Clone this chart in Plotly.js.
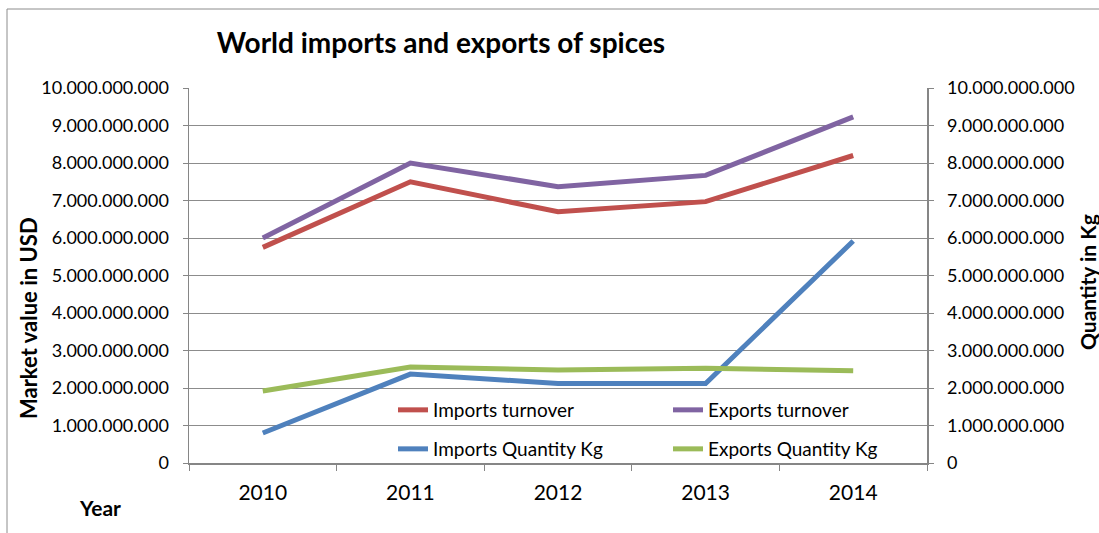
<!DOCTYPE html>
<html>
<head>
<meta charset="utf-8">
<script src="https://cdn.plot.ly/plotly-3.0.1.min.js"></script>
<style>html,body{margin:0;padding:0;background:#fff;}#chart{width:1099px;height:533px;}</style>
</head>
<body>
<div id="chart"></div>
<script>
const years = ['2010', '2011', '2012', '2013', '2014'];
const importsTurnover = [5.75e9, 7.5e9, 6.7e9, 6.97e9, 8.2e9];
const exportsTurnover = [6.0e9, 8.0e9, 7.37e9, 7.67e9, 9.23e9];
const importsQuantity = [0.8e9, 2.37e9, 2.12e9, 2.12e9, 5.92e9];
const exportsQuantity = [1.92e9, 2.56e9, 2.48e9, 2.53e9, 2.46e9];
const yTickVals = [0, 1e9, 2e9, 3e9, 4e9, 5e9, 6e9, 7e9, 8e9, 9e9, 1e10];

const FONT = 'Lato, "Open Sans", sans-serif';
const L = 189, R = 927, T = 88, B = 463;
const px = x => (x - L) / (R - L);
const py = y => (B - y) / (B - T);

const traces = [
  {x: years, y: importsTurnover, name: 'Imports turnover', type: 'scatter', mode: 'lines',
   line: {color: '#C0504D', width: 5}, legend: 'legend'},
  {x: years, y: exportsTurnover, name: 'Exports turnover', type: 'scatter', mode: 'lines',
   line: {color: '#8064A2', width: 5}, legend: 'legend'},
  {x: years, y: importsQuantity, name: 'Imports Quantity Kg', type: 'scatter', mode: 'lines',
   line: {color: '#4F81BD', width: 5}, yaxis: 'y2', legend: 'legend2'},
  {x: years, y: exportsQuantity, name: 'Exports Quantity Kg', type: 'scatter', mode: 'lines',
   line: {color: '#9BBB59', width: 5}, yaxis: 'y2', legend: 'legend2'}
];

const axisY = {
  range: [0, 1e10], tickvals: yTickVals, tickformat: ',d', fixedrange: true,
  showline: true, linecolor: '#868686', linewidth: 1.5,
  ticks: 'outside', ticklen: 5, tickcolor: '#868686', tickwidth: 1,
  tickfont: {family: FONT, size: 18, color: '#000'}, zeroline: false, ticklabelstandoff: 10
};

const legendFont = {family: FONT, size: 19, color: '#000'};

const layout = {
  width: 1099, height: 533,
  margin: {l: L, r: 1099 - R, t: T, b: 533 - B},
  paper_bgcolor: '#fff', plot_bgcolor: '#fff',
  separators: ',.',
  font: {family: FONT, color: '#000'},
  title: {text: '<b>World imports and exports of spices</b>', font: {family: FONT, size: 28, color: '#000'},
          x: px(441), xref: 'paper', xanchor: 'center', y: 1 - 43 / 533, yanchor: 'middle'},
  xaxis: {
    type: 'category', range: [-0.5, 4.5], tickson: 'boundaries', showline: true, linecolor: '#868686', linewidth: 1.5,
    ticks: 'outside', ticklen: 6, tickcolor: '#868686', tickwidth: 1, showgrid: false,
    tickfont: {family: FONT, size: 21, color: '#000'}, ticklabelstandoff: 10, fixedrange: true
  },
  yaxis: Object.assign({}, axisY, {showgrid: true, gridcolor: '#8c8c8c', gridwidth: 1}),
  yaxis2: Object.assign({}, axisY, {overlaying: 'y', side: 'right', showgrid: false}),
  showlegend: true,
  legend: {orientation: 'h', x: px(393), xanchor: 'left', y: py(410), yanchor: 'middle',
           bgcolor: 'rgba(0,0,0,0)', font: legendFont, entrywidth: 230, traceorder: 'normal'},
  legend2: {orientation: 'h', x: px(393), xanchor: 'left', y: py(449), yanchor: 'middle',
           bgcolor: 'rgba(0,0,0,0)', font: legendFont, entrywidth: 230, traceorder: 'normal'},
  annotations: [
    {text: '<b>Market value in USD</b>', xref: 'paper', yref: 'paper', x: px(28), y: py(318),
     xanchor: 'center', yanchor: 'middle',
     textangle: -90, showarrow: false, font: {family: FONT, size: 22, color: '#000'}},
    {text: '<b>Quantity in Kg</b>', xref: 'paper', yref: 'paper', x: px(1087), y: py(282),
     xanchor: 'center', yanchor: 'middle',
     textangle: -90, showarrow: false, font: {family: FONT, size: 21, color: '#000'}},
    {text: '<b>Year</b>', xref: 'paper', yref: 'paper', x: px(100), y: py(507),
     xanchor: 'center', yanchor: 'middle',
     showarrow: false, font: {family: FONT, size: 21, color: '#000'}}
  ],
  shapes: [
    {type: 'rect', xref: 'paper', yref: 'paper', x0: px(7), x1: px(1105), y0: py(540), y1: py(9),
     line: {color: '#8c8c8c', width: 1}, fillcolor: 'rgba(0,0,0,0)', layer: 'below'}
  ]
};

Plotly.newPlot('chart', traces, layout, {displayModeBar: false, staticPlot: true});
</script>
</body>
</html>
